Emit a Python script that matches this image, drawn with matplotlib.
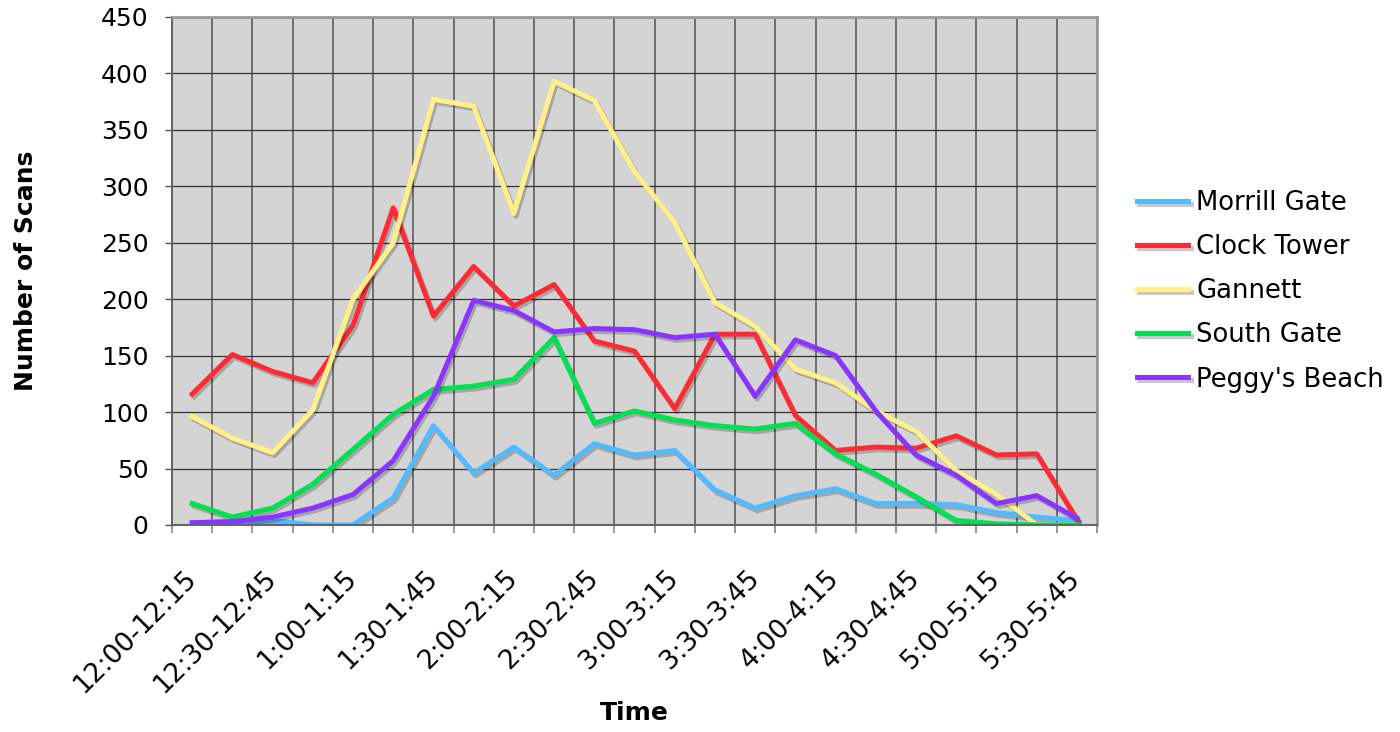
import numpy as np
import matplotlib
matplotlib.use("Agg")
import matplotlib.pyplot as plt
import matplotlib.patheffects as pe
import matplotlib.transforms as mtransforms

# time slots (15 min each)
slots = ['12:00-12:15', '12:15-12:30', '12:30-12:45', '12:45-1:00',
         '1:00-1:15', '1:15-1:30', '1:30-1:45', '1:45-2:00',
         '2:00-2:15', '2:15-2:30', '2:30-2:45', '2:45-3:00',
         '3:00-3:15', '3:15-3:30', '3:30-3:45', '3:45-4:00',
         '4:00-4:15', '4:15-4:30', '4:30-4:45', '4:45-5:00',
         '5:00-5:15', '5:15-5:30', '5:30-5:45']

morrill_gate = [2, 3, 4, 0, 0, 24, 88, 46, 69, 44, 72, 62, 66, 31, 15, 26, 32, 19, 19, 18, 11, 7, 4]
clock_tower = [116, 151, 136, 126, 177, 281, 185, 229, 194, 213, 163, 154, 103, 169, 169, 97, 66, 69, 68, 79, 62, 63, 5]
gannett = [96, 77, 64, 102, 200, 250, 377, 371, 276, 393, 376, 313, 268, 197, 176, 138, 126, 101, 83, 48, 27, 0, 0]
south_gate = [19, 7, 15, 36, 67, 98, 120, 123, 129, 166, 90, 101, 93, 88, 85, 90, 63, 45, 25, 4, 1, 0, 0]
peggys_beach = [2, 3, 7, 15, 27, 57, 114, 199, 190, 171, 174, 173, 166, 169, 114, 164, 150, 101, 62, 44, 19, 26, 6]

fig = plt.figure(figsize=(14, 7.32), dpi=100)
ax = fig.add_axes([0.1229, 0.2828, 0.6607, 0.694])
ax.set_facecolor('#d4d4d4')

x = np.arange(len(slots))
shadow = [pe.SimpleLineShadow(offset=(1.5, -2), shadow_color='k', alpha=0.22), pe.Normal()]

ax.plot(x, morrill_gate, color='#52baff', lw=3.6, label='Morrill Gate', path_effects=shadow)
ax.plot(x, clock_tower, color='#ff2b34', lw=3.6, label='Clock Tower', path_effects=shadow)
ax.plot(x, gannett, color='#fff08a', lw=3.6, label='Gannett', path_effects=shadow)
ax.plot(x, south_gate, color='#00e050', lw=3.6, label='South Gate', path_effects=shadow)
ax.plot(x, peggys_beach, color='#8a35ff', lw=3.6, label="Peggy's Beach", path_effects=shadow)

ax.set_xlim(-0.5, len(slots) - 0.5)
ax.set_ylim(0, 450)
ax.set_yticks(np.arange(0, 451, 50))

# labels every other slot, ticks/grid at slot boundaries
ax.set_xticks(x[::2])
ax.set_xticklabels(slots[::2], rotation=45, ha='right', va='center',
                   rotation_mode='anchor', fontsize=19)
shift = mtransforms.ScaledTranslation(-10 / 100, 0, fig.dpi_scale_trans)
for lab in ax.get_xticklabels():
    lab.set_transform(lab.get_transform() + shift)
ax.set_xticks(np.arange(-0.5, len(slots)), minor=True)
ax.tick_params(axis='x', which='major', length=0, pad=36)
ax.tick_params(axis='x', which='minor', length=6, color='#888888', width=1.2)
ax.tick_params(axis='y', length=5, color='#555555', width=1, labelsize=18, pad=12)

ax.grid(True, axis='x', which='minor', color='#666666', lw=1.3)
ax.grid(True, axis='y', which='major', color='#333333', lw=0.9)
ax.set_axisbelow(True)

for s in ['top', 'right']:
    ax.spines[s].set_color('#999999')
    ax.spines[s].set_linewidth(2)
ax.spines['left'].set_color('#666666')
ax.spines['bottom'].set_color('#666666')
ax.spines['left'].set_linewidth(1.5)
ax.spines['bottom'].set_linewidth(1.5)

ax.set_xlabel('Time', fontsize=18, fontweight='bold')
ax.xaxis.set_label_coords(0.5, -0.346)
ax.set_ylabel('Number of Scans', fontsize=18, fontweight='bold')
ax.yaxis.set_label_coords(-0.145, 0.5)

leg = fig.legend(loc='center left', bbox_to_anchor=(0.812, 0.602), frameon=False,
                 fontsize=18.6, handlelength=2.0, handletextpad=0.3,
                 labelspacing=0.7, borderpad=0, borderaxespad=0)

fig.savefig('out.png', dpi=100)
